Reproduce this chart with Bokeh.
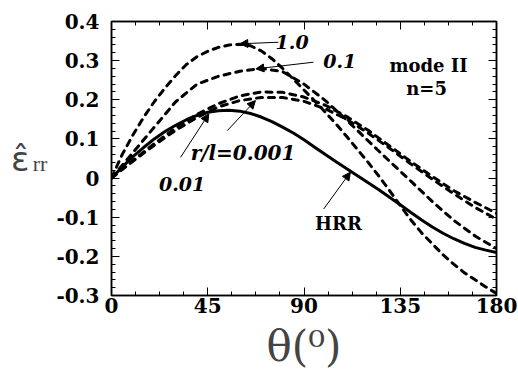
from bokeh.plotting import figure
from bokeh.models import (LinearAxis, FixedTicker, CustomJSTickFormatter, Label,
                          Arrow, NormalHead, Range1d, CustomLabelingPolicy)
from bokeh.embed import file_html
from bokeh.resources import INLINE
import numpy as np

# ---------------- data ----------------
theta5 = list(range(0, 181, 5))
theta10 = list(range(0, 181, 10))

r_1_0 = [0, 0.06, 0.11, 0.155, 0.195, 0.23, 0.262, 0.29, 0.31, 0.324, 0.334, 0.34,
         0.342, 0.338, 0.325, 0.305, 0.28, 0.253, 0.225, 0.197, 0.168, 0.138, 0.106,
         0.073, 0.04, 0.005, -0.032, -0.07, -0.107, -0.14, -0.168, -0.196, -0.22,
         -0.242, -0.26, -0.278, -0.295]
r_0_1 = [0, 0.065, 0.13, 0.195, 0.24, 0.26, 0.273, 0.28, 0.272, 0.24, 0.198, 0.148,
         0.095, 0.043, -0.008, -0.06, -0.108, -0.148, -0.18]
r_0_01 = [0, 0.045, 0.088, 0.128, 0.163, 0.19, 0.21, 0.22, 0.219, 0.207, 0.186, 0.157,
          0.122, 0.082, 0.042, 0.004, -0.032, -0.062, -0.09]
r_0_001 = [0, 0.043, 0.084, 0.122, 0.155, 0.182, 0.198, 0.206, 0.206, 0.196, 0.177,
           0.15, 0.115, 0.076, 0.036, -0.003, -0.04, -0.075, -0.105]
hrr = [0, 0.028, 0.055, 0.078, 0.1, 0.119, 0.135, 0.149, 0.16, 0.168, 0.172, 0.173,
       0.171, 0.165, 0.156, 0.144, 0.13, 0.115, 0.098, 0.079, 0.06, 0.042, 0.024,
       0.006, -0.012, -0.03, -0.049, -0.068, -0.088, -0.107, -0.125, -0.141, -0.155,
       -0.167, -0.177, -0.184, -0.19]

x_ticks = [0, 45, 90, 135, 180]
y_ticks = [-0.3, -0.2, -0.1, 0, 0.1, 0.2, 0.3, 0.4]

# ---------------- figure ----------------
p = figure(width=518, height=374, x_range=Range1d(0, 180), y_range=Range1d(-0.3, 0.4),
           output_backend="svg", toolbar_location=None,
           min_border_left=111, min_border_right=22, min_border_top=21, min_border_bottom=79)
p.grid.visible = False
p.outline_line_color = "black"
p.outline_line_width = 1.5
p.background_fill_color = "white"
p.border_fill_color = "white"

x_minor = list(np.arange(0, 180.01, 11.25))
y_minor = list(np.round(np.arange(-0.3, 0.4001, 0.02), 3))
xt = FixedTicker(ticks=x_ticks, minor_ticks=x_minor)
yt = FixedTicker(ticks=y_ticks, minor_ticks=y_minor)

fmt_y = CustomJSTickFormatter(code="return Math.abs(tick) < 1e-9 ? '0' : tick.toFixed(1);")
fmt_x = CustomJSTickFormatter(code="return tick.toFixed(0);")

def no_labels():
    return CustomLabelingPolicy(code="for (const i of indices) { indices.unset(i) } return indices")

def style(ax, labels=True):
    ax.axis_line_width = 1.5
    ax.axis_line_color = "black"
    ax.major_tick_in = 8
    ax.major_tick_out = 0
    ax.minor_tick_in = 4
    ax.minor_tick_out = 0
    ax.major_tick_line_color = "black"
    ax.minor_tick_line_color = "black"
    ax.major_label_text_font = "DejaVu Serif"
    ax.major_label_text_font_style = "bold"
    ax.major_label_text_color = "black"
    if labels:
        ax.major_label_text_font_size = "20px"
    else:
        ax.major_label_text_font_size = "0px"
        ax.major_label_standoff = 0
        ax.major_label_policy = no_labels()

xa = p.xaxis[0]
xa.ticker = xt
xa.formatter = fmt_x
style(xa)
xa.major_label_standoff = 2
xa.axis_label = "θ(⁰)"
xa.axis_label_text_font = "DejaVu Serif"
xa.axis_label_text_font_style = "normal"
xa.axis_label_text_font_size = "42px"
xa.axis_label_standoff = 6

ya = p.yaxis[0]
ya.ticker = yt
ya.formatter = fmt_y
style(ya)
ya.major_label_standoff = 12
ya.axis_label = "\nrr"
ya.axis_label_orientation = "horizontal"
ya.axis_label_text_font = "Liberation Serif"
ya.axis_label_text_font_style = "normal"
ya.axis_label_text_font_size = "22px"
ya.axis_label_text_line_height = 0.4
ya.axis_label_text_baseline = "top"
ya.axis_label_standoff = 6

# outer left axis carrying only the epsilon symbol
eps_axis = LinearAxis(ticker=FixedTicker(ticks=[]), axis_line_color=None,
                      major_tick_line_color=None, minor_tick_line_color=None,
                      major_label_text_font_size="0px", major_label_standoff=0,
                      axis_label="ε̂", axis_label_orientation="horizontal",
                      axis_label_text_font="DejaVu Sans", axis_label_text_font_style="normal",
                      axis_label_text_font_size="34px", axis_label_standoff=0)
eps_axis.major_label_policy = no_labels()
p.add_layout(eps_axis, "left")

top = LinearAxis(ticker=xt, formatter=fmt_x)
style(top, labels=False)
p.add_layout(top, "above")
right = LinearAxis(ticker=yt, formatter=fmt_y)
style(right, labels=False)
p.add_layout(right, "right")

# ---------------- curves ----------------
dash = "6 6"
p.line(theta5, r_1_0, line_color="black", line_width=3, line_dash=dash, line_cap="round")
p.line(theta10, r_0_1, line_color="black", line_width=3, line_dash=dash, line_cap="round")
p.line(theta10, r_0_01, line_color="black", line_width=3, line_dash=dash, line_cap="round")
p.line(theta10, r_0_001, line_color="black", line_width=3, line_dash=dash, line_cap="round")
p.line(theta5, hrr, line_color="black", line_width=3)

# ---------------- annotations ----------------
arrows = [
    (78.0, 0.347, 60.0, 0.343),
    (94.4, 0.296, 67.5, 0.279),
    (54.1, 0.121, 67.3, 0.198),
    (32.3, 0.053, 45.5, 0.164),
    (99.2, -0.079, 111.7, 0.015),
]
for x0, y0, x1, y1 in arrows:
    p.add_layout(Arrow(x_start=x0, y_start=y0, x_end=x1, y_end=y1, line_width=1,
                       line_color="black",
                       end=NormalHead(size=8, fill_color="black", line_color="black")))

italic_labels = [
    (76.7, 0.348, "1.0", "left", "19px"),
    (99.0, 0.300, "0.1", "left", "19px"),
    (61.5, 0.063, "r/l=0.001", "center", "20px"),
    (33.0, -0.015, "0.01", "center", "19px"),
]
for x, y, t, al, fs in italic_labels:
    p.add_layout(Label(x=x, y=y, text=t, text_align=al, text_baseline="middle",
                       text_font="DejaVu Serif", text_font_style="bold italic",
                       text_font_size=fs, text_color="black"))

bold_labels = [
    (106.1, -0.117, "HRR"),
    (148.2, 0.288, "mode II"),
    (147.3, 0.228, "n=5"),
]
for x, y, t in bold_labels:
    p.add_layout(Label(x=x, y=y, text=t, text_align="center", text_baseline="middle",
                       text_font="DejaVu Serif", text_font_style="bold",
                       text_font_size="18px", text_color="black"))

open("out.html", "w").write(file_html(p, INLINE))
